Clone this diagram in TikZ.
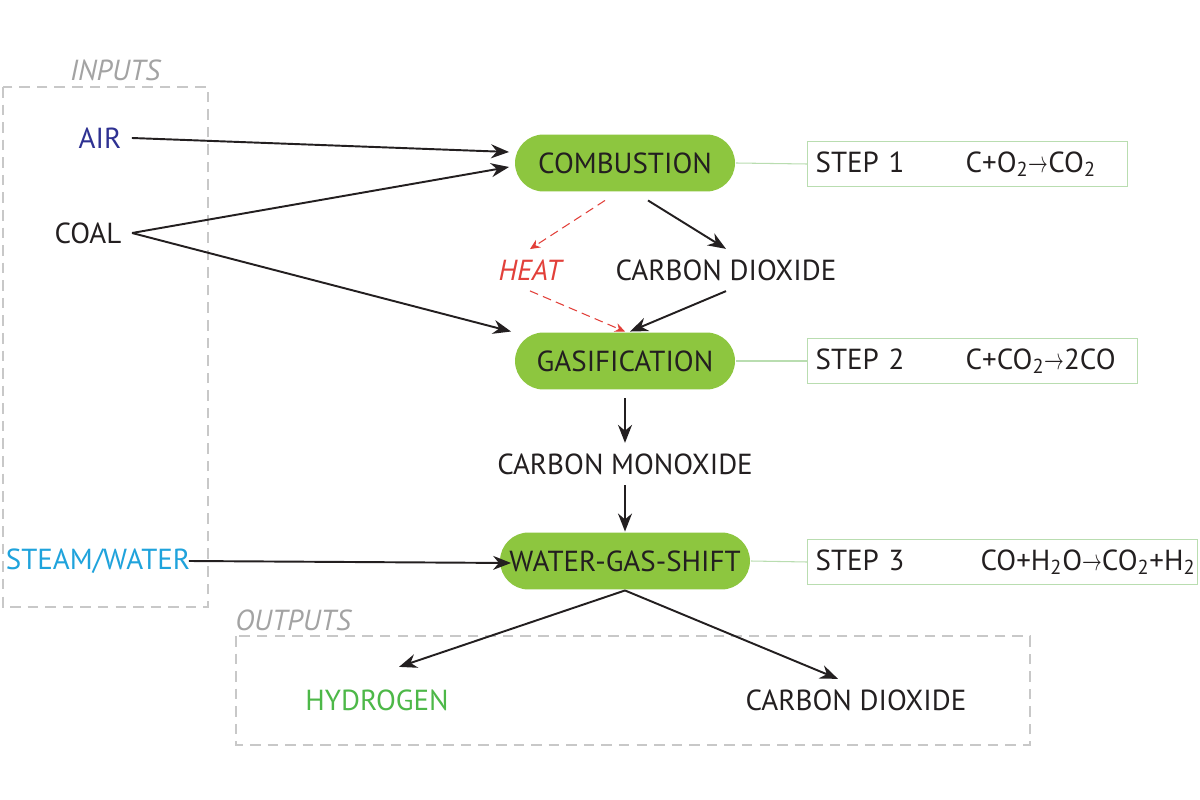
\documentclass[tikz,border=0pt]{standalone}
\usepackage{fontspec}
\setmainfont{PT Sans}
\usetikzlibrary{arrows.meta, calc}
\definecolor{cgreen}{HTML}{8DC63F}
\definecolor{cedge}{HTML}{B9DDB0}
\definecolor{cdash}{HTML}{C8C8C8}
\definecolor{clabel}{HTML}{A3A3A3}
\definecolor{cdark}{HTML}{231F20}
\definecolor{cair}{HTML}{2E3192}
\definecolor{csteam}{HTML}{1FA3DC}
\definecolor{chydro}{HTML}{4DB848}
\definecolor{cred}{HTML}{E2403A}
\tikzset{
  every picture/.style={line width=1.1pt},
  pill/.style={fill=cgreen, rounded corners=0.57cm, minimum height=1.14cm, minimum width=#1, inner sep=0pt, text=cdark},
  stepbox/.style={draw=cedge, line width=0.8pt, minimum height=0.88cm, text width=#1, inner xsep=0.16cm, align=left, anchor=west, text=cdark},
  arrow/.style={-{Stealth[length=3.6mm, width=2.8mm]}, draw=cdark},
  heatarrow/.style={-{Stealth[length=2mm, width=1.8mm]}, draw=cred, dash pattern=on 5pt off 3pt, line width=0.6pt},
  link/.style={draw=cedge, line width=0.6pt},
  boxtitle/.style={font=\itshape, text=clabel},
  region/.style={draw=cdash, dash pattern=on 6pt off 4pt, line width=0.6pt},
}
\newcommand{\yields}{\scalebox{0.65}[1]{$\rightarrow$}}
\begin{document}
\fontsize{16.5}{19}\selectfont
\begin{tikzpicture}[x=0.02cm, y=-0.02cm, every node/.append style={text=cdark}]
  \useasboundingbox[fill=white] (0,0) rectangle (1200,800);
  % input and output regions
  \draw[region] (3,87) rectangle (208,607);
  \draw[region] (236,636) rectangle (1030,745);
  \node[boxtitle] (intitle) at (115,70) {INPUTS};
  \node[boxtitle] (outtitle) at (293,620) {OUTPUTS};
  % steps
  \node[pill=4.4cm] (comb) at (625,163) {COMBUSTION};
  \node[pill=4.4cm] (gas) at (625,361) {GASIFICATION};
  \node[pill=5cm] (wgs) at (625,561) {WATER-GAS-SHIFT};
  \node[stepbox=6.08cm] (s1) at (807,164) {\makebox[3cm][l]{STEP 1}C+O\textsubscript{2}\yields CO\textsubscript{2}};
  \node[stepbox=6.28cm] (s2) at (807,361) {\makebox[3cm][l]{STEP 2}C+CO\textsubscript{2}\yields 2CO};
  \node[stepbox=7.48cm] (s3) at (807,562) {\makebox[3.3cm][l]{STEP 3}CO+H\textsubscript{2}O\yields CO\textsubscript{2}+H\textsubscript{2}};
  \draw[link] (comb.east) -- (s1.west);
  \draw[link] (gas.east) -- (s2.west);
  \draw[link] (wgs.east) -- (s3.west);
  % materials
  \node[text=cair] (air) at (100,138) {AIR};
  \node (coal) at (88,233) {COAL};
  \node[text=csteam] (steam) at (98,561) {STEAM/WATER};
  \node (co2a) at (726,270) {CARBON DIOXIDE};
  \node[text=cred, font=\itshape] (heat) at (530,270) {HEAT};
  \node (com) at (625,464) {CARBON MONOXIDE};
  \node[text=chydro] (h2) at (377,700) {HYDROGEN};
  \node (co2b) at (856,700) {CARBON DIOXIDE};
  % flows
  \draw[arrow] (air.east) -- ($(comb.west)+(-5,-11)$);
  \draw[arrow] (coal.east) -- ($(comb.west)+(-5,4)$);
  \draw[arrow] (coal.east) -- ($(gas.north west)+(-3,0)$);
  \draw[arrow] ($(comb.south)+(23,8)$) -- (co2a.north);
  \draw[arrow] (co2a.south) -- ($(gas.north)+(5,0)$);
  \draw[heatarrow] ($(comb.south)+(-20,8)$) -- (heat.north);
  \draw[heatarrow] (heat.south) -- (gas.north);
  \draw[arrow] ($(gas.south)+(0,8)$) -- (com.north);
  \draw[arrow] (com.south) -- (wgs.north);
  \draw[arrow] ($(steam.east)+(-12,0)$) -- ($(wgs.west)+(12,2)$);
  \draw[arrow] (wgs.south) -- ($(h2.north)+(22,-12)$);
  \draw[arrow] (wgs.south) -- ($(co2b.north)+(-18,0)$);
\end{tikzpicture}
\end{document}
